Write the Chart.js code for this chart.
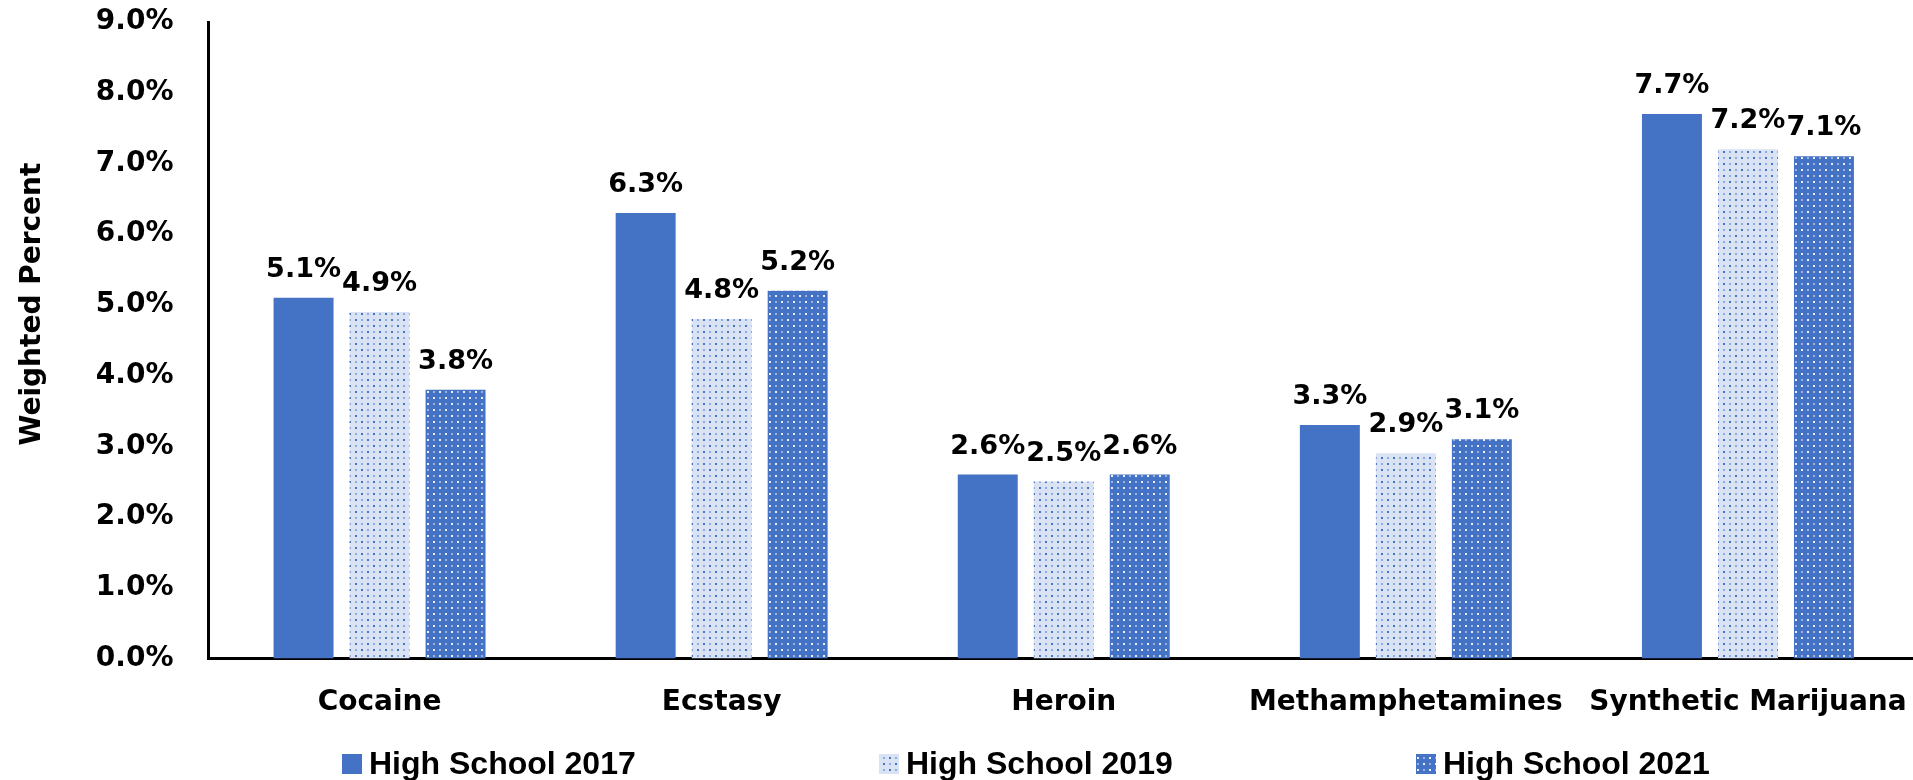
<!DOCTYPE html>
<html>
<head>
<meta charset="utf-8">
<title>Weighted Percent by Drug</title>
<script src="https://cdn.jsdelivr.net/npm/chart.js@4.4.1/dist/chart.umd.min.js"></script>
<style>
  html, body { margin: 0; padding: 0; background: #fff; overflow: hidden; }
  #wrap { width: 1919px; height: 780px; position: relative; }
</style>
</head>
<body>
<div id="wrap"><canvas id="drugChart"></canvas></div>
<script>
// ---- data ----
const categories = ['Cocaine', 'Ecstasy', 'Heroin', 'Methamphetamines', 'Synthetic Marijuana'];
const seriesNames = ['High School 2017', 'High School 2019', 'High School 2021'];
const hs2017 = [5.1, 6.3, 2.6, 3.3, 7.7];
const hs2019 = [4.9, 4.8, 2.5, 2.9, 7.2];
const hs2021 = [3.8, 5.2, 2.6, 3.1, 7.1];
const yTicks = [0, 1, 2, 3, 4, 5, 6, 7, 8, 9];
const yTitle = 'Weighted Percent';

// ---- fills ----
const BLUE = '#4472c4';
const PALE = '#dae3f3';

// small dotted tile, like the office "dotted grid" fill
function dotPattern(bg, fg) {
  const tile = document.createElement('canvas');
  tile.width = 12;
  tile.height = 12;
  const g = tile.getContext('2d');
  g.fillStyle = bg;
  g.fillRect(0, 0, 12, 12);
  g.fillStyle = fg;
  g.fillRect(1, 1, 2, 2);
  g.fillRect(7, 7, 2, 2);
  g.fillRect(7, 1.5, 2, 1);
  g.fillRect(1, 7.5, 2, 1);
  return g.createPattern(tile, 'repeat');
}

const fills = [BLUE, dotPattern(PALE, BLUE), dotPattern(BLUE, '#eef2fa')];

const BOLD28 = { family: 'DejaVu Sans', size: 28, weight: 'bold' };

// value above each bar
const valueLabels = {
  id: 'valueLabels',
  afterDatasetsDraw(chart) {
    const ctx = chart.ctx;
    ctx.save();
    ctx.font = 'bold 27px "DejaVu Sans"';
    ctx.fillStyle = '#000';
    ctx.textAlign = 'center';
    ctx.textBaseline = 'middle';
    chart.data.datasets.forEach((ds, i) => {
      chart.getDatasetMeta(i).data.forEach((bar, j) => {
        ctx.fillText(ds.data[j].toFixed(1) + '%', bar.x, bar.y - 28);
      });
    });
    ctx.restore();
  }
};

// axis title and the legend row underneath
const sideText = {
  id: 'sideText',
  afterDraw(chart) {
    const ctx = chart.ctx;
    ctx.save();
    ctx.fillStyle = '#000';
    ctx.font = 'bold 28px "DejaVu Sans"';
    ctx.textAlign = 'center';
    ctx.textBaseline = 'middle';
    ctx.translate(33, 304);
    ctx.rotate(-Math.PI / 2);
    ctx.fillText(yTitle, 0, 0);
    ctx.restore();

    ctx.save();
    ctx.font = 'bold 32px "Liberation Sans"';
    ctx.textAlign = 'left';
    ctx.textBaseline = 'middle';
    chart.data.datasets.forEach((ds, i) => {
      const x = 342 + i * 537;
      ctx.fillStyle = ds.backgroundColor;
      ctx.fillRect(x, 754, 20, 20);
      ctx.fillStyle = '#000';
      ctx.fillText(ds.label, x + 27, 765);
    });
    ctx.restore();
  }
};

new Chart(document.getElementById('drugChart'), {
  type: 'bar',
  data: {
    labels: categories,
    datasets: [hs2017, hs2019, hs2021].map((vals, i) => ({
      label: seriesNames[i],
      data: vals,
      backgroundColor: fills[i],
      borderWidth: 0,
      categoryPercentage: 0.6665,
      barPercentage: 0.789
    }))
  },
  options: {
    responsive: true,
    maintainAspectRatio: false,
    animation: false,
    layout: { padding: { top: 22, bottom: 60, left: 0, right: 0 } },
    plugins: {
      legend: { display: false },
      tooltip: { enabled: false }
    },
    scales: {
      x: {
        grid: { display: false, drawTicks: false },
        border: { color: '#000', width: 3 },
        // labels sit 28px under the axis; keep the band tight
        afterFit: s => { s.height = 28 + 33.6; s.paddingLeft = 0; s.paddingRight = 0; },
        ticks: {
          padding: 28,
          autoSkip: false,
          maxRotation: 0,
          color: '#000',
          font: BOLD28
        }
      },
      y: {
        min: 0,
        max: 9,
        afterBuildTicks: s => { s.ticks = yTicks.map(v => ({ value: v })); },
        afterFit: s => { s.width = 208.5; s.paddingTop = 0; s.paddingBottom = 0; },
        grid: { display: false, drawTicks: false },
        border: { color: '#000', width: 3 },
        ticks: {
          padding: 35,
          color: '#000',
          font: BOLD28,
          callback: v => v.toFixed(1) + '%'
        }
      }
    }
  },
  plugins: [valueLabels, sideText]
});
</script>
</body>
</html>
